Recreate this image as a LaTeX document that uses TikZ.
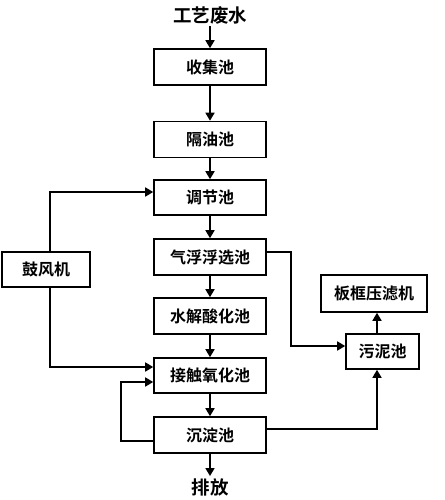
\documentclass[tikz,border=0pt]{standalone}
\usepackage{fontspec}
\newfontfamily\cjk{Noto Sans CJK SC}[BoldFont={Noto Sans CJK SC Bold}]
\usetikzlibrary{arrows.meta,calc}
\begin{document}
\begin{tikzpicture}[x=1pt,y=-1pt,
  box/.style={draw,line width=1.6pt,minimum width=112pt,minimum height=36pt,inner sep=0pt,
    font=\cjk\bfseries\fontsize{16}{19}\selectfont},
  ttl/.style={inner sep=0pt,font=\cjk\bfseries\fontsize{18.5}{22}\selectfont},
  arr/.style={line width=1.6pt,-{Triangle[length=8pt,width=9pt]}},
]
\useasboundingbox (0,0) rectangle (444,500);
\node[ttl] (src) at (210,15) {工艺废水};
\node[box] (shouji) at (210,67) {收集池};
\node[box] (geyou) at (210,139.5) {隔油池};
\node[box,minimum height=35pt] (tiaojie) at (210,197.5) {调节池};
\node[box] (qifu) at (210,257) {气浮浮选池};
\node[box] (shuijie) at (210,316) {水解酸化池};
\node[box,minimum height=35pt] (jiechu) at (210,375.5) {接触氧化池};
\node[box] (chendian) at (210,435) {沉淀池};
\node[ttl] (out) at (210,487) {排放};
\node[box,minimum width=88pt,minimum height=35pt] (gufeng) at (46,269.5) {鼓风机};
\node[box,minimum width=73pt,minimum height=35pt] (wuni) at (382.5,351.5) {污泥池};
\node[box,minimum width=106pt,minimum height=37pt] (bankuang) at (374,293.5) {板框压滤机};

\draw[arr] (src.south) ++(0,2) -- (shouji.north);
\draw[arr] (shouji) -- (geyou);
\draw[arr] (geyou) -- (tiaojie);
\draw[arr] (tiaojie) -- (qifu);
\draw[arr] (qifu) -- (shuijie);
\draw[arr] (shuijie) -- (jiechu);
\draw[arr] (jiechu) -- (chendian);
\draw[arr] (chendian.south) -- ($(out.north)+(0,-2)$);
\draw[arr] ([xshift=4pt]gufeng.north) |- ([yshift=5.5pt]tiaojie.west);
\draw[arr] ([xshift=4pt]gufeng.south) |- ([yshift=8.5pt]jiechu.west);
\draw[arr] ([yshift=-6pt]chendian.west) -- ++(-32,0) |- ([yshift=-6.5pt]jiechu.west);
\draw[arr] ([yshift=5pt]qifu.east) -- ++(24,0) |- ([yshift=5.5pt]wuni.west);
\draw[arr] ([yshift=6pt]chendian.east) -| ([xshift=-5.5pt]wuni.south);
\draw[arr] ([xshift=-5.5pt]wuni.north) -- ([xshift=-5.5pt]wuni.north |- bankuang.south);
\end{tikzpicture}
\end{document}
